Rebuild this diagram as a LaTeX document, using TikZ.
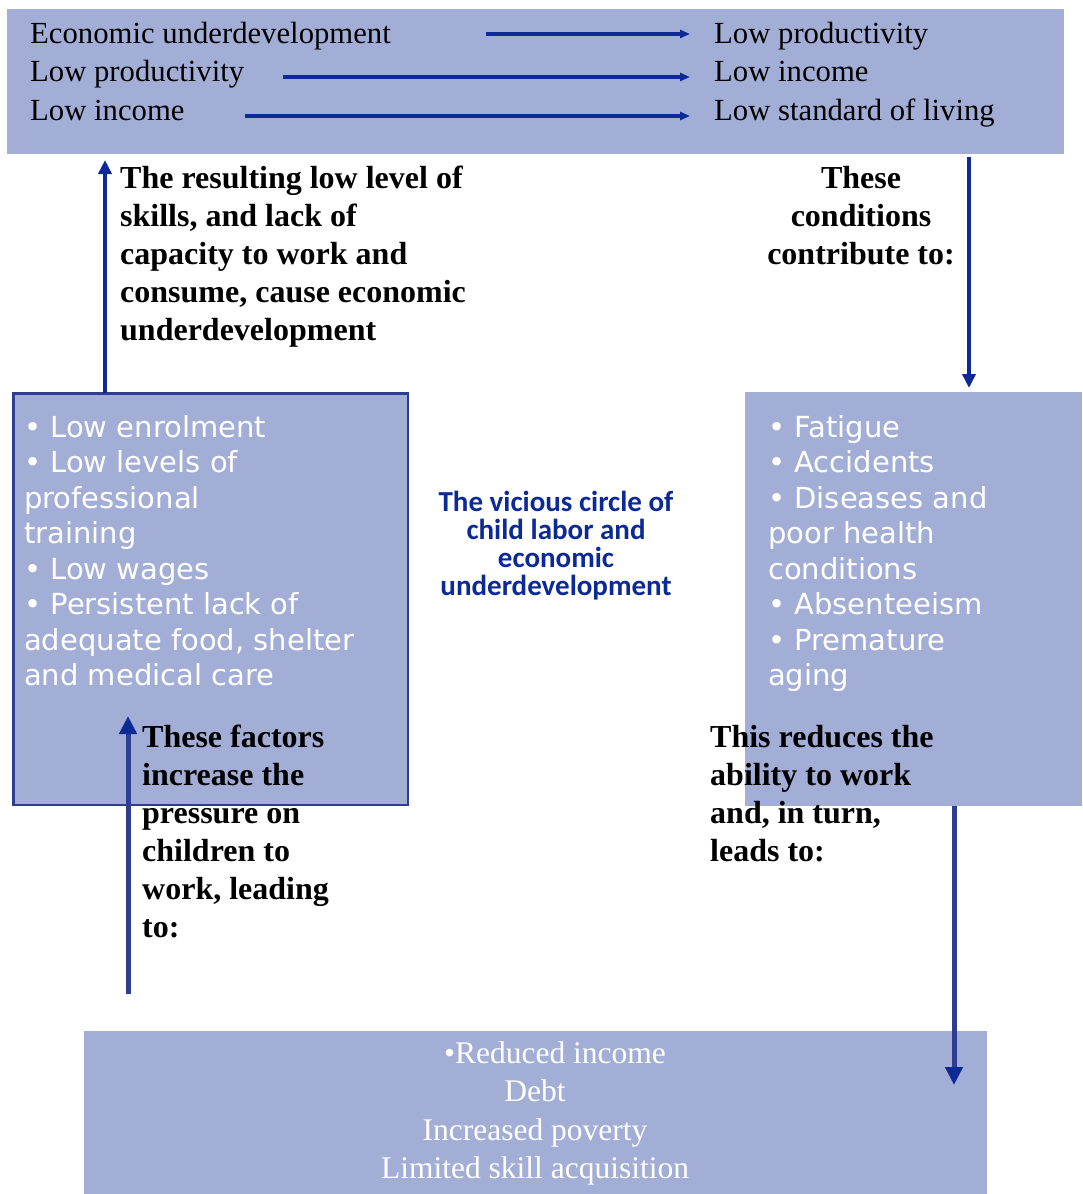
\documentclass[tikz,border=0pt]{standalone}
\usepackage{fontspec}
\setmainfont{Liberation Serif}
\newfontfamily\verdanafont{DejaVu Sans}
\newfontfamily\calibrifont{Carlito}
\usetikzlibrary{arrows.meta,positioning,calc}

\definecolor{boxblue}{RGB}{162,174,214}
\definecolor{arrowblue}{RGB}{12,42,150}
\definecolor{lineblue}{RGB}{46,60,145}

\tikzset{
  panel/.style={fill=boxblue, inner sep=0pt, outer sep=0pt},
  serif/.style={font=\fontsize{30.7}{38.5}\selectfont, inner sep=0pt, anchor=base west},
  boldtxt/.style={font=\fontsize{32}{38}\selectfont\bfseries, inner sep=0pt},
  sans/.style={font=\verdanafont\fontsize{29}{35.5}\selectfont, text=white, inner sep=0pt, anchor=base west},
  titletxt/.style={font=\calibrifont\bfseries\fontsize{29}{28}\selectfont, text=arrowblue, inner sep=0pt, anchor=base},
  restxt/.style={font=\fontsize{31.5}{38.5}\selectfont, text=white, inner sep=0pt, anchor=base},
  flow/.style={arrowblue, line width=4pt, -{Triangle[length=10pt,width=8pt]}},
  midflow/.style={arrowblue, line width=4.5pt, -{Triangle[length=14pt,width=13pt]}},
  bigflow/.style={lineblue, line width=5pt, -{Triangle[length=18pt,width=17pt,color=arrowblue]}}
}

\begin{document}
\begin{tikzpicture}[x=1pt,y=-1pt]
\fill[white] (0,0) rectangle (1082,1194);
\useasboundingbox (0,0) rectangle (1082,1194);

% panels
\node[panel, minimum width=1057pt, minimum height=145pt] (top) at (535.5,81.5) {};
\node[panel, draw=lineblue, line width=2.5pt, minimum width=394.5pt, minimum height=411.5pt] (causes) at (210.5,599) {};
\node[panel, minimum width=337pt, minimum height=414pt] (effects) at (913.5,599) {};
\node[panel, minimum width=903pt, minimum height=163pt] (results) at (535.5,1112.5) {};

% top row
\node[serif] (eco) at (30,43) {Economic underdevelopment};
\node[serif] (lowprod) at (30,81.5) {Low productivity};
\node[serif] (lowinc) at (30,120) {Low income};
\node[serif] (toprod) at (714,43) {Low productivity};
\node[serif] (toinc) at (714,81.5) {Low income};
\node[serif] (toliving) at (714,120) {Low standard of living};
\coordinate (from1) at (486,34);
\coordinate (from2) at (283,77);
\coordinate (from3) at (245,116);
\draw[flow, shorten >=24pt] (from1) -- (from1 -| toprod.west);
\draw[flow, shorten >=24pt] (from2) -- (from2 -| toinc.west);
\draw[flow, shorten >=24pt] (from3) -- (from3 -| toliving.west);

% side notes
\foreach \t [count=\i] in {The resulting low level of,{skills, and lack of},capacity to work and,{consume, cause economic},underdevelopment}
\node[boldtxt, anchor=base west] (skill\i) at (120,{188+38*(\i-1)}) {\t};
\foreach \t [count=\i] in {These,conditions,contribute to:}
\node[boldtxt, anchor=base] (cond\i) at (861,{188+38*(\i-1)}) {\t};
\foreach \t [count=\i] in {These factors,increase the,pressure on,children to,{work, leading},to:}
\node[boldtxt, anchor=base west] (press\i) at (142,{747+38*(\i-1)}) {\t};
\foreach \t [count=\i] in {This reduces the,ability to work,{and, in turn,},leads to:}
\node[boldtxt, anchor=base west] (abil\i) at (710,{747+38*(\i-1)}) {\t};

% lists
\foreach \t [count=\i] in {{• Low enrolment},{• Low levels of},professional,training,{• Low wages},{• Persistent lack of},{adequate food, shelter},and medical care}
\node[sans] (cause\i) at (24,{437+35.5*(\i-1)}) {\t};
\foreach \t [count=\i] in {{• Fatigue},{• Accidents},{• Diseases and},poor health,conditions,{• Absenteeism},{• Premature},aging}
\node[sans] (effect\i) at (768,{437+35.5*(\i-1)}) {\t};

% title
\foreach \t [count=\i] in {The vicious circle of,child labor and,economic,underdevelopment}
\node[titletxt] (title\i) at (556,{511+28*(\i-1)}) {\t};

% results
\node[restxt] (res1) at (555,1063) {•Reduced income};
\foreach \t [count=\i] in {Debt,Increased poverty,Limited skill acquisition}
\node[restxt] (res\i) at (535,{1101.5+38.5*(\i-1)}) {\t};

% cycle arrows
\coordinate (feed) at (105,0);
\coordinate (drop) at (969,0);
\draw[midflow, shorten >=6pt] (causes.north -| feed) -- (top.south -| feed);
\draw[midflow, shorten <=3pt, shorten >=4pt] (top.south -| drop) -- (effects.north -| drop);
\coordinate (push) at (128,994);
\coordinate (pushtip) at (128,716);
\draw[bigflow] (push) -- (pushtip);
\coordinate (leadtip) at (954,1085);
\draw[bigflow] (effects.south -| leadtip) -- (leadtip);
\end{tikzpicture}
\end{document}
